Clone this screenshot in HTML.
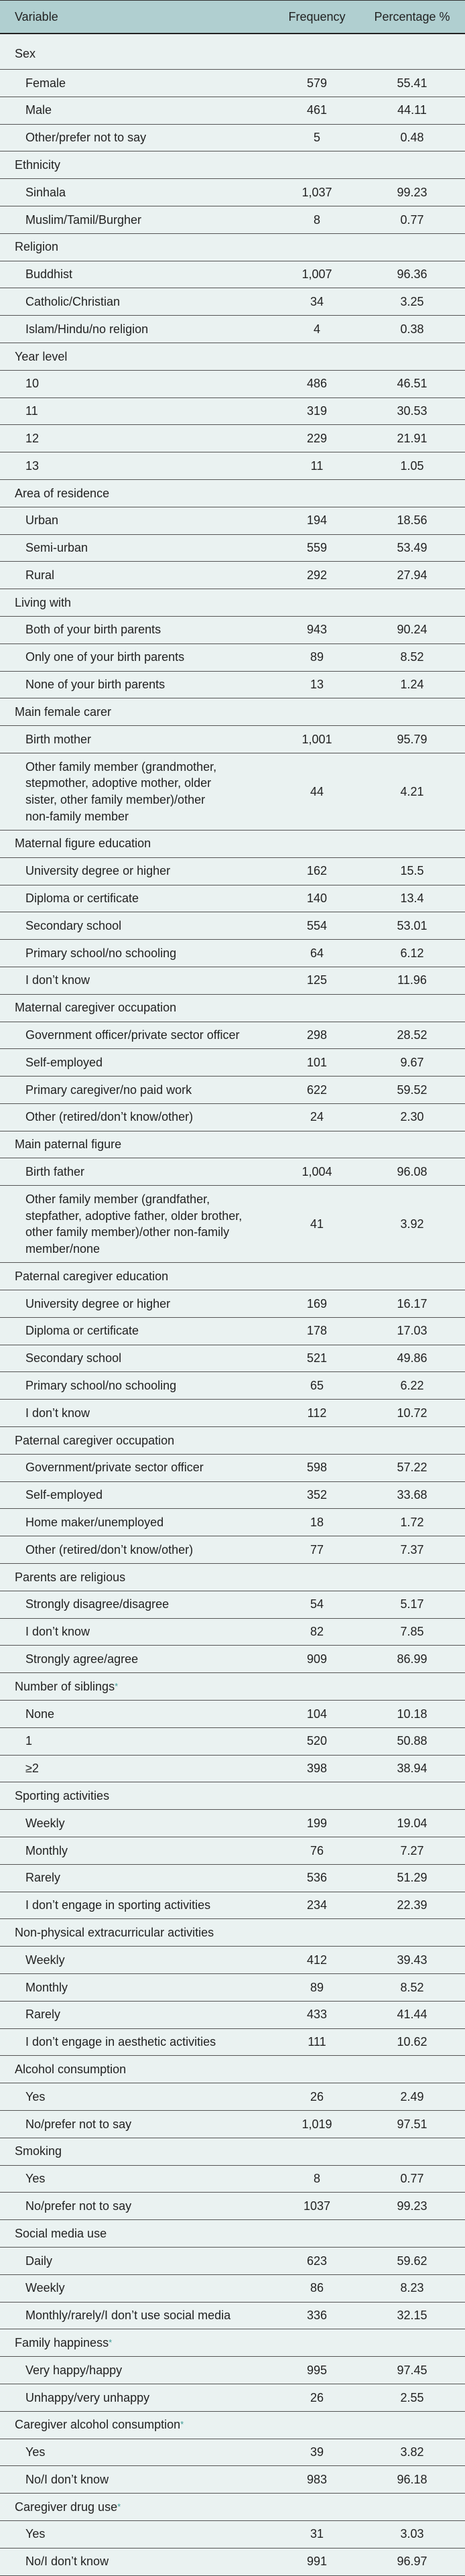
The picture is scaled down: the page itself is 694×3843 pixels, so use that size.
<!DOCTYPE html>
<html><head><meta charset="utf-8">
<style>
html,body{margin:0;padding:0;background:#eaf2f1;}
body{width:694px;height:3838px;overflow:hidden;font-family:"Liberation Sans",sans-serif;color:#222;}
table{border-collapse:collapse;table-layout:fixed;width:694px;border-top:1px solid #333;}
td,th{padding:0;white-space:nowrap;font-weight:normal;font-size:18px;vertical-align:middle;}
th{background:#b0cfd0;height:48px;border-bottom:2px solid #222;}
td{border-bottom:1px solid #555;line-height:24.7px;height:39.8px;}
.v{padding-left:22px;text-align:left;}
.s{padding-left:38px;}
.c{text-align:center;}
.m td{height:114px;}
.first td{height:46px;padding-top:6px;}
.ast{color:#3a9a94;font-size:13px;vertical-align:top;}
</style></head><body>
<table>
<colgroup><col style="width:410px"><col style="width:126px"><col style="width:158px"></colgroup>
<thead><tr>
<th class="v">Variable</th>
<th class="c">Frequency</th>
<th class="c">Percentage %</th>
</tr></thead>
<tbody id="tb"></tbody>
</table>
<script>
const rows = [
["H","Sex"],["Female","579","55.41"],["Male","461","44.11"],["Other/prefer not to say","5","0.48"],
["H","Ethnicity"],["Sinhala","1,037","99.23"],["Muslim/Tamil/Burgher","8","0.77"],
["H","Religion"],["Buddhist","1,007","96.36"],["Catholic/Christian","34","3.25"],["Islam/Hindu/no religion","4","0.38"],
["H","Year level"],["10","486","46.51"],["11","319","30.53"],["12","229","21.91"],["13","11","1.05"],
["H","Area of residence"],["Urban","194","18.56"],["Semi-urban","559","53.49"],["Rural","292","27.94"],
["H","Living with"],["Both of your birth parents","943","90.24"],["Only one of your birth parents","89","8.52"],["None of your birth parents","13","1.24"],
["H","Main female carer"],["Birth mother","1,001","95.79"],["Other family member (grandmother,<br>stepmother, adoptive mother, older<br>sister, other family member)/other<br>non-family member","44","4.21"],
["H","Maternal figure education"],["University degree or higher","162","15.5"],["Diploma or certificate","140","13.4"],["Secondary school","554","53.01"],["Primary school/no schooling","64","6.12"],["I don't know","125","11.96"],
["H","Maternal caregiver occupation"],["Government officer/private sector officer","298","28.52"],["Self-employed","101","9.67"],["Primary caregiver/no paid work","622","59.52"],["Other (retired/don't know/other)","24","2.30"],
["H","Main paternal figure"],["Birth father","1,004","96.08"],["Other family member (grandfather,<br>stepfather, adoptive father, older brother,<br>other family member)/other non-family<br>member/none","41","3.92"],
["H","Paternal caregiver education"],["University degree or higher","169","16.17"],["Diploma or certificate","178","17.03"],["Secondary school","521","49.86"],["Primary school/no schooling","65","6.22"],["I don't know","112","10.72"],
["H","Paternal caregiver occupation"],["Government/private sector officer","598","57.22"],["Self-employed","352","33.68"],["Home maker/unemployed","18","1.72"],["Other (retired/don't know/other)","77","7.37"],
["H","Parents are religious"],["Strongly disagree/disagree","54","5.17"],["I don't know","82","7.85"],["Strongly agree/agree","909","86.99"],
["H","Number of siblings*"],["None","104","10.18"],["1","520","50.88"],["≥2","398","38.94"],
["H","Sporting activities"],["Weekly","199","19.04"],["Monthly","76","7.27"],["Rarely","536","51.29"],["I don't engage in sporting activities","234","22.39"],
["H","Non-physical extracurricular activities"],["Weekly","412","39.43"],["Monthly","89","8.52"],["Rarely","433","41.44"],["I don't engage in aesthetic activities","111","10.62"],
["H","Alcohol consumption"],["Yes","26","2.49"],["No/prefer not to say","1,019","97.51"],
["H","Smoking"],["Yes","8","0.77"],["No/prefer not to say","1037","99.23"],
["H","Social media use"],["Daily","623","59.62"],["Weekly","86","8.23"],["Monthly/rarely/I don't use social media","336","32.15"],
["H","Family happiness*"],["Very happy/happy","995","97.45"],["Unhappy/very unhappy","26","2.55"],
["H","Caregiver alcohol consumption*"],["Yes","39","3.82"],["No/I don't know","983","96.18"],
["H","Caregiver drug use*"],["Yes","31","3.03"],["No/I don't know","991","96.97"]
];
const tb = document.getElementById('tb');
rows.forEach((r,i)=>{
  const tr = document.createElement('tr');
  const isH = r[0]==="H";
  
  
  if(i===0) tr.className='first';
  if(!isH && r[0].indexOf('<br>')>=0) tr.className='m';
  const label = (isH ? r[1] : r[0]).replace(/'/g,'\u2019').replace('*','<span class="ast">*</span>');
  const td1 = document.createElement('td');
  
  
  td1.className = isH ? 'v' : 's';
  td1.innerHTML = label;
  const td2 = document.createElement('td');
  
  
  td2.className='c';
  td2.textContent = isH ? '' : r[1];
  const td3 = document.createElement('td');
  
  
  td3.className='c';
  td3.textContent = isH ? '' : r[2];
  tr.appendChild(td1);tr.appendChild(td2);tr.appendChild(td3);
  tb.appendChild(tr);
});
</script>
</body></html>
